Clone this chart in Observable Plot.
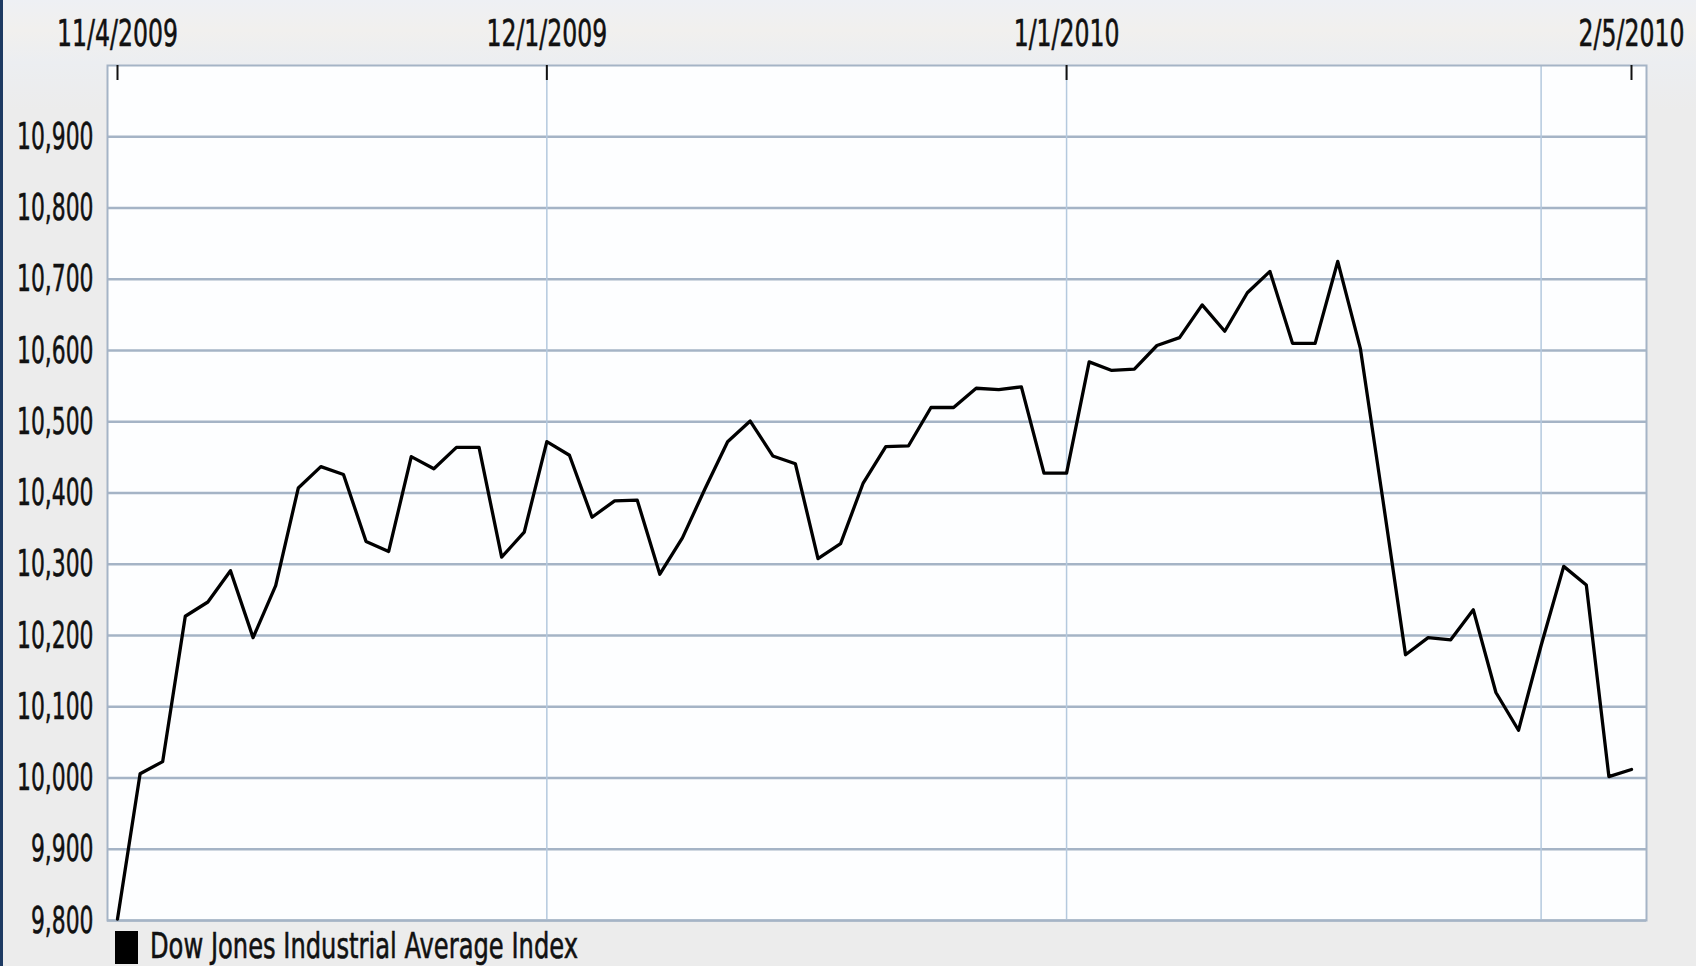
<!DOCTYPE html>
<html>
<head>
<meta charset="utf-8">
<script src="https://cdn.jsdelivr.net/npm/d3@7"></script>
<script src="https://cdn.jsdelivr.net/npm/@observablehq/plot@0.6"></script>
<style>
  html, body { margin: 0; padding: 0; }
  body {
    width: 1696px; height: 966px; overflow: hidden; position: relative;
    background: linear-gradient(to bottom, #eef0f4 0px, #f1f0ee 30px, #eceef1 62px, #ececec 110px, #ececec 100%);
  }
  body::before {
    content: ""; position: absolute; left: 0; top: 0; width: 3px; height: 966px; background: #1d3a62;
  }
  #chart svg, #legend svg { display: block; }
</style>
</head>
<body>
<div id="chart"></div>
<div id="legend"></div>
<script>
// Weekday dates (holidays included, repeating the previous close)
const dates = [
  "2009-11-04","2009-11-05","2009-11-06","2009-11-09","2009-11-10","2009-11-11","2009-11-12","2009-11-13",
  "2009-11-16","2009-11-17","2009-11-18","2009-11-19","2009-11-20","2009-11-23","2009-11-24","2009-11-25",
  "2009-11-26","2009-11-27","2009-11-30",
  "2009-12-01","2009-12-02","2009-12-03","2009-12-04","2009-12-07","2009-12-08","2009-12-09","2009-12-10",
  "2009-12-11","2009-12-14","2009-12-15","2009-12-16","2009-12-17","2009-12-18","2009-12-21","2009-12-22",
  "2009-12-23","2009-12-24","2009-12-25","2009-12-28","2009-12-29","2009-12-30","2009-12-31",
  "2010-01-01","2010-01-04","2010-01-05","2010-01-06","2010-01-07","2010-01-08","2010-01-11","2010-01-12",
  "2010-01-13","2010-01-14","2010-01-15","2010-01-18","2010-01-19","2010-01-20","2010-01-21","2010-01-22",
  "2010-01-25","2010-01-26","2010-01-27","2010-01-28","2010-01-29",
  "2010-02-01","2010-02-02","2010-02-03","2010-02-04","2010-02-05"
];
const values = [
  9802, 10006, 10023, 10227, 10247, 10291, 10197, 10270,
  10407, 10437, 10426, 10332, 10318, 10451, 10434, 10464,
  10464, 10310, 10345,
  10472, 10453, 10366, 10389, 10390, 10286, 10337, 10406,
  10472, 10501, 10452, 10441, 10308, 10329, 10414, 10465,
  10466, 10520, 10520, 10547, 10545, 10549, 10428,
  10428, 10584, 10572, 10574, 10607, 10618, 10664, 10627,
  10681, 10711, 10610, 10610, 10725, 10603, 10390, 10173,
  10197, 10194, 10236, 10120, 10067,
  10186, 10297, 10271, 10002, 10012
];
const seriesName = "Dow Jones Industrial Average Index";
const yTicks = [9800, 9900, 10000, 10100, 10200, 10300, 10400, 10500, 10600, 10700, 10800, 10900];
const xTickDates = ["2009-11-04", "2009-12-01", "2010-01-01", "2010-02-05"];
const xTickLabels = ["11/4/2009", "12/1/2009", "1/1/2010", "2/5/2010"];
const xGridDates = ["2009-12-01", "2010-01-01", "2010-02-01"];

const data = dates.map((d, i) => ({i, date: d, value: values[i]}));
const tickIdx = xTickDates.map(d => dates.indexOf(d));
const gridIdx = xGridDates.map(d => dates.indexOf(d));

const FONT = "DejaVu Sans";
const chart = Plot.plot({
  width: 1696, height: 928,
  marginTop: 65, marginLeft: 107, marginRight: 50, marginBottom: 8,
  style: {background: "transparent", fontFamily: FONT, fontSize: "38px", color: "#111", overflow: "visible"},
  x: {type: "linear", domain: [-0.4425, 67.664], axis: null, label: null},
  y: {domain: [9800, 11000], axis: null, label: null},
  marks: [
    Plot.frame({fill: "#fdfeff", stroke: null}),
    Plot.gridY(yTicks, {stroke: "#a5b4c6", strokeOpacity: 1, strokeWidth: 2.5}),
    Plot.gridX(gridIdx, {stroke: "#b4c9de", strokeOpacity: 1, strokeWidth: 1.5}),
    Plot.frame({stroke: "#a5b4c6", strokeWidth: 2}),
    Plot.ruleX(tickIdx, {x: d => d, stroke: "#111", strokeWidth: 2, insetBottom: 840}),
    Plot.axisY(yTicks, {tickSize: 0, tickPadding: 14, tickFormat: d3.format(","), fontSize: 38, fill: "#111", label: null}),
    Plot.axisX(tickIdx, {anchor: "top", tickSize: 0, tickPadding: 20, label: null,
      tickFormat: d => xTickLabels[tickIdx.indexOf(d)], fontSize: 38, fill: "#111"}),
    Plot.line(data, {x: "i", y: "value", stroke: "#000", strokeWidth: 3.3})
  ]
});
document.getElementById("chart").appendChild(chart);

// legend below the plot
const ns = "http://www.w3.org/2000/svg";
const leg = document.createElementNS(ns, "svg");
leg.setAttribute("width", 1696); leg.setAttribute("height", 38);
const sq = document.createElementNS(ns, "rect");
sq.setAttribute("x", 115); sq.setAttribute("y", 3); sq.setAttribute("width", 23); sq.setAttribute("height", 33);
sq.setAttribute("fill", "#000");
leg.appendChild(sq);
const lt = document.createElementNS(ns, "text");
lt.setAttribute("x", 150); lt.setAttribute("y", 30);
lt.setAttribute("font-family", FONT); lt.setAttribute("font-size", 35); lt.setAttribute("fill", "#111");
lt.setAttribute("stroke", "#111"); lt.setAttribute("stroke-width", 0.6);
lt.textContent = seriesName;
leg.appendChild(lt);
document.getElementById("legend").appendChild(leg);

// condense text horizontally, like the narrow bitmap font of the original
function squeezeTo(t, width) {
  t.setAttribute("textLength", width.toFixed(1));
  t.setAttribute("lengthAdjust", "spacingAndGlyphs");
}
function squeeze(nodes, k) {
  nodes.forEach(t => {
    const L = t.getComputedTextLength();
    if (L > 0) squeezeTo(t, L * k);
  });
}
const allText = Array.from(chart.querySelectorAll("text"));
allText.forEach(t => { t.setAttribute("stroke", "#111"); t.setAttribute("stroke-width", 0.6); });
const yText = allText.filter(t => /,/.test(t.textContent));
const xText = allText.filter(t => /\//.test(t.textContent));
squeeze(yText, 0.575);
squeeze(xText, 0.62);
squeezeTo(lt, 428);
</script>
</body>
</html>
